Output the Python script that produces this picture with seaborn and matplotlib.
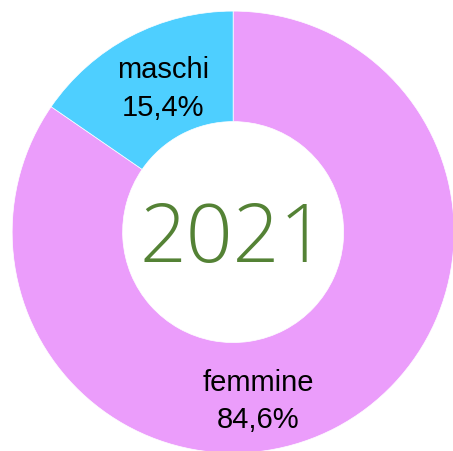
import matplotlib
matplotlib.use("Agg")
import matplotlib.pyplot as plt
import seaborn as sns
import numpy as np

# dati
categorie = ["femmine", "maschi"]
percentuali = [84.6, 15.4]
etichette = ["femmine\n84,6%", "maschi\n15,4%"]
colori = ["#EB9DFB", "#4ECFFF"]
anno = "2021"

# posizione etichette (angolo in gradi, distanza dal centro)
pos_etichette = [(-81.6, 0.77), (116.0, 0.725)]

sns.set_theme(style="white")
plt.rcParams["font.family"] = ["Liberation Sans", "DejaVu Sans"]

fig = plt.figure(figsize=(4.53, 4.52), dpi=100)
ax = fig.add_axes([0, 0, 1, 1])

# femmine parte da 90 gradi in senso orario
wedges, _ = ax.pie(
    percentuali,
    colors=colori,
    startangle=90,
    counterclock=False,
    radius=1,
    wedgeprops=dict(width=0.5, edgecolor="white", linewidth=0.5),
)

for testo, (ang, dist) in zip(etichette, pos_etichette):
    a = np.deg2rad(ang)
    ax.text(dist * np.cos(a), dist * np.sin(a), testo, ha="center", va="center",
            fontsize=21, color="black", linespacing=1.42, multialignment="center")

# anno al centro, baseline un po' sotto il centro
ax.text(0, -0.131, anno, ha="center", va="baseline", fontsize=59, color="#548235",
        family=["Open Sans", "Liberation Sans", "DejaVu Sans"], fontweight=300)

ax.set_xlim(-1.055, 0.995)
ax.set_ylim(-0.9905, 1.0545)
ax.set_aspect("equal")
ax.axis("off")

fig.savefig("out.png", dpi=100)
